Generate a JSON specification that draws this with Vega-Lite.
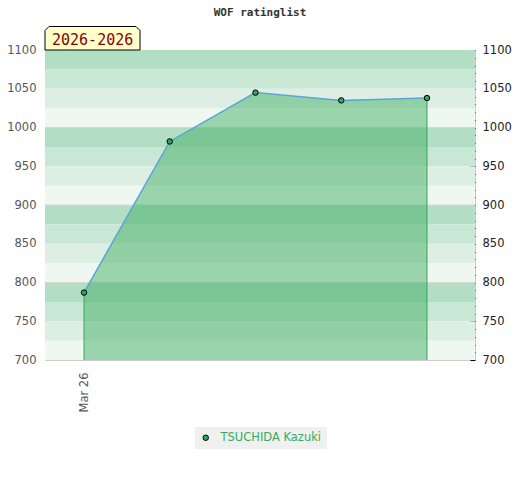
{
  "$schema": "https://vega.github.io/schema/vega-lite/v6.json",
  "width": 430,
  "height": 310,
  "autosize": {"type": "none"},
  "padding": {"left": 45, "top": 50, "right": 45, "bottom": 120},
  "background": "white",
  "title": {
    "text": "WOF ratinglist",
    "font": "DejaVu Sans Mono",
    "fontSize": 11,
    "fontWeight": "bold",
    "color": "#333333",
    "anchor": "middle",
    "frame": "group",
    "baseline": "bottom",
    "offset": -5
  },
  "config": {"view": {"stroke": "#cccccc", "strokeWidth": 1}},
  "datasets": {
    "ratings": [
      {"idx": 0, "rating": 787, "name": "TSUCHIDA Kazuki"},
      {"idx": 1, "rating": 982, "name": "TSUCHIDA Kazuki"},
      {"idx": 2, "rating": 1045, "name": "TSUCHIDA Kazuki"},
      {"idx": 3, "rating": 1035, "name": "TSUCHIDA Kazuki"},
      {"idx": 4, "rating": 1038, "name": "TSUCHIDA Kazuki"}
    ],
    "bands": [
      {"lo": 1075, "hi": 1100, "shade": 1},
      {"lo": 1050, "hi": 1075, "shade": 2},
      {"lo": 1025, "hi": 1050, "shade": 3},
      {"lo": 1000, "hi": 1025, "shade": 4},
      {"lo": 975, "hi": 1000, "shade": 1},
      {"lo": 950, "hi": 975, "shade": 2},
      {"lo": 925, "hi": 950, "shade": 3},
      {"lo": 900, "hi": 925, "shade": 4},
      {"lo": 875, "hi": 900, "shade": 1},
      {"lo": 850, "hi": 875, "shade": 2},
      {"lo": 825, "hi": 850, "shade": 3},
      {"lo": 800, "hi": 825, "shade": 4},
      {"lo": 775, "hi": 800, "shade": 1},
      {"lo": 750, "hi": 775, "shade": 2},
      {"lo": 725, "hi": 750, "shade": 3},
      {"lo": 700, "hi": 725, "shade": 4}
    ],
    "grid": [{"v": 800}, {"v": 900}, {"v": 1000}],
    "badge": [{"label": "2026-2026"}]
  },
  "resolve": {"scale": {"y": "shared", "x": "shared"}, "axis": {"y": "independent"}},
  "layer": [
    {
      "data": {"name": "bands"},
      "mark": {"type": "rect"},
      "encoding": {
        "y": {
          "field": "lo",
          "type": "quantitative",
          "scale": {"domain": [700, 1100], "nice": false, "zero": false},
          "axis": {
            "orient": "left",
            "values": [700, 750, 800, 850, 900, 950, 1000, 1050, 1100],
            "format": "d",
            "ticks": false,
            "domain": false,
            "grid": false,
            "title": null,
            "labelPadding": 9,
            "labelFont": "DejaVu Sans",
            "labelFontSize": 11.5,
            "labelColor": "#555555"
          }
        },
        "y2": {"field": "hi"},
        "fill": {
          "field": "shade",
          "type": "ordinal",
          "scale": {"domain": [1, 2, 3, 4], "range": ["#b2dec4", "#c8e7d4", "#ddeee3", "#eff7f1"]},
          "legend": null
        }
      }
    },
    {
      "data": {"name": "grid"},
      "mark": {"type": "rule", "color": "#d6d9d6", "strokeWidth": 1},
      "encoding": {
        "y": {"field": "v", "type": "quantitative", "axis": null}
      }
    },
    {
      "data": {"name": "ratings"},
      "mark": {"type": "area", "fill": "#3cac5e", "fillOpacity": 0.47},
      "encoding": {
        "x": {
          "field": "idx",
          "type": "quantitative",
          "scale": {"domain": [-0.455, 4.56], "nice": false, "zero": false},
          "axis": {
            "values": [0],
            "labelExpr": "'Mar 26'",
            "labelAngle": -90,
            "labelAlign": "right",
            "labelBaseline": "middle",
            "labelPadding": 12,
            "ticks": false,
            "domain": false,
            "grid": false,
            "title": null,
            "labelFont": "DejaVu Sans",
            "labelFontSize": 11.5,
            "labelColor": "#555555"
          }
        },
        "y": {
          "field": "rating",
          "type": "quantitative",
          "axis": {
            "orient": "right",
            "values": [700, 710, 720, 730, 740, 750, 760, 770, 780, 790, 800, 810, 820, 830, 840, 850, 860, 870, 880, 890, 900, 910, 920, 930, 940, 950, 960, 970, 980, 990, 1000, 1010, 1020, 1030, 1040, 1050, 1060, 1070, 1080, 1090, 1100],
            "format": "d",
            "labelExpr": "datum.value % 50 === 0 ? datum.label : ''",
            "tickSize": {"condition": {"test": "datum.value % 50 === 0", "value": -5}, "value": -2},
            "tickColor": "#000000",
            "tickWidth": 1,
            "domain": false,
            "grid": false,
            "title": null,
            "labelPadding": 12,
            "labelFont": "DejaVu Sans",
            "labelFontSize": 11.5,
            "labelColor": "#222222"
          }
        },
        "y2": {"datum": 700}
      }
    },
    {
      "data": {"name": "ratings"},
      "transform": [{"filter": "datum.idx == 0 || datum.idx == 4"}],
      "mark": {"type": "rule", "color": "#3aa55a", "strokeWidth": 1},
      "encoding": {
        "x": {"field": "idx", "type": "quantitative"},
        "y": {"field": "rating", "type": "quantitative", "axis": null},
        "y2": {"datum": 700}
      }
    },
    {
      "data": {"name": "ratings"},
      "mark": {"type": "line", "color": "#5ba3d8", "strokeWidth": 1.5},
      "encoding": {
        "x": {"field": "idx", "type": "quantitative"},
        "y": {"field": "rating", "type": "quantitative", "axis": null}
      }
    },
    {
      "data": {"name": "ratings"},
      "mark": {"type": "point", "filled": true, "size": 30, "stroke": "#000000", "strokeWidth": 1, "opacity": 1},
      "encoding": {
        "x": {"field": "idx", "type": "quantitative"},
        "y": {"field": "rating", "type": "quantitative", "axis": null},
        "color": {
          "field": "name",
          "type": "nominal",
          "scale": {"range": ["#33a35f"]},
          "legend": {
            "title": null,
            "orient": "none",
            "legendX": 150,
            "legendY": 377,
            "fillColor": "#f0f0f0",
            "padding": 5,
            "symbolType": "circle",
            "symbolSize": 30,
            "symbolStrokeColor": "#000000",
            "symbolStrokeWidth": 1,
            "symbolOpacity": 1,
            "labelColor": "#3aaa60",
            "labelFont": "DejaVu Sans",
            "labelFontSize": 11.5,
            "labelOffset": 9
          }
        }
      }
    },
    {
      "data": {"name": "badge"},
      "mark": {
        "type": "point",
        "filled": true,
        "shape": "M-1,0.2474L-1,-0.163L-0.916,-0.2474L0.916,-0.2474L1,-0.163L1,0.2474Z",
        "size": 9025,
        "fill": "#ffffcc",
        "stroke": "#000000",
        "strokeWidth": 1,
        "opacity": 1,
        "xOffset": 47.5,
        "yOffset": -11.75
      },
      "encoding": {
        "x": {"datum": -0.455, "type": "quantitative"},
        "y": {"datum": 1100, "type": "quantitative", "axis": null}
      }
    },
    {
      "data": {"name": "badge"},
      "mark": {
        "type": "text",
        "align": "left",
        "baseline": "alphabetic",
        "dx": 7,
        "dy": -5,
        "font": "DejaVu Sans Mono",
        "fontSize": 15,
        "color": "#8b0000"
      },
      "encoding": {
        "x": {"datum": -0.455, "type": "quantitative"},
        "y": {"datum": 1100, "type": "quantitative", "axis": null},
        "text": {"field": "label"}
      }
    }
  ]
}
